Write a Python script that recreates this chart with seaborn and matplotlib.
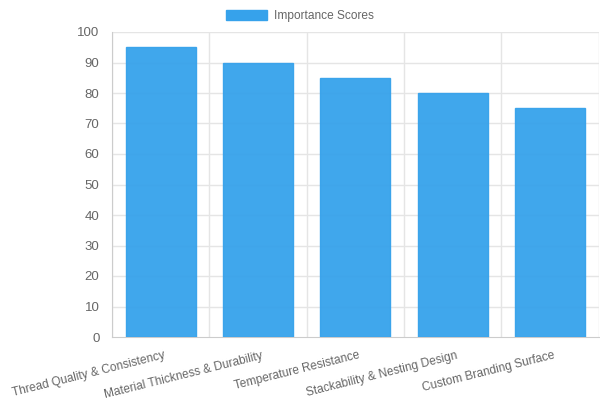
import matplotlib
matplotlib.use("Agg")
import matplotlib.pyplot as plt
import matplotlib.transforms as mtrans
import seaborn as sns
import pandas as pd
from matplotlib.patches import Patch

# chart values
categories = [
    "Thread Quality & Consistency",
    "Material Thickness & Durability",
    "Temperature Resistance",
    "Stackability & Nesting Design",
    "Custom Branding Surface",
]
scores = [95, 90, 85, 80, 75]
series_name = "Importance Scores"

bar_color = "#36A2EB"
text_color = "#666666"
grid_color = "#E5E5E5"

sns.set_style("white")
plt.rcParams["font.family"] = ["Liberation Sans", "DejaVu Sans"]

df = pd.DataFrame({"category": categories, "score": scores})

fig = plt.figure(figsize=(6, 4), dpi=100)
ax = fig.add_axes([0.1867, 0.1575, 0.8113, 0.7625])

sns.barplot(data=df, x="category", y="score", color=bar_color, width=0.72,
            saturation=1, edgecolor=bar_color, linewidth=1, ax=ax, zorder=3)
for p in ax.patches:
    p.set_alpha(0.95)

ax.set_xlim(-0.5, len(categories) - 0.5)
ax.set_ylim(0, 100)
ax.set_yticks(range(0, 101, 10))
ax.set_xlabel("")
ax.set_ylabel("")

# grid lines sit on category boundaries, like the original
bounds = [i - 0.5 for i in range(len(categories) + 1)]
for b in bounds:
    ax.axvline(b, color=grid_color, lw=1, zorder=1)
for y in range(10, 101, 10):
    ax.axhline(y, color=grid_color, lw=1, zorder=1)

ax.set_xticks(range(len(categories)))
ax.set_xticklabels(categories, rotation=14, ha="right", rotation_mode="anchor",
                   fontsize=8.6, color=text_color)
ax.tick_params(axis="x", length=0, pad=9)
ax.set_xticks(bounds, minor=True)
ax.tick_params(axis="x", which="minor", length=6, color=grid_color, width=1)
ax.tick_params(axis="y", length=6, color=grid_color, width=1, labelsize=9.5,
               labelcolor=text_color, pad=3)
shift = mtrans.ScaledTranslation(2 / 72, 0, fig.dpi_scale_trans)
for lbl in ax.get_xticklabels():
    lbl.set_transform(lbl.get_transform() + shift)

for side in ["top", "right"]:
    ax.spines[side].set_visible(False)
ax.spines["left"].set_color("#CCCCCC")
ax.spines["bottom"].set_color("#CCCCCC")

handle = Patch(facecolor=bar_color, edgecolor=bar_color)
fig.legend([handle], [series_name], loc="center", bbox_to_anchor=(0.5, 0.96),
           frameon=False, fontsize=8.6, labelcolor=text_color,
           handlelength=3.4, handleheight=1.0, handletextpad=0.6)

fig.savefig("out.png", dpi=100)
